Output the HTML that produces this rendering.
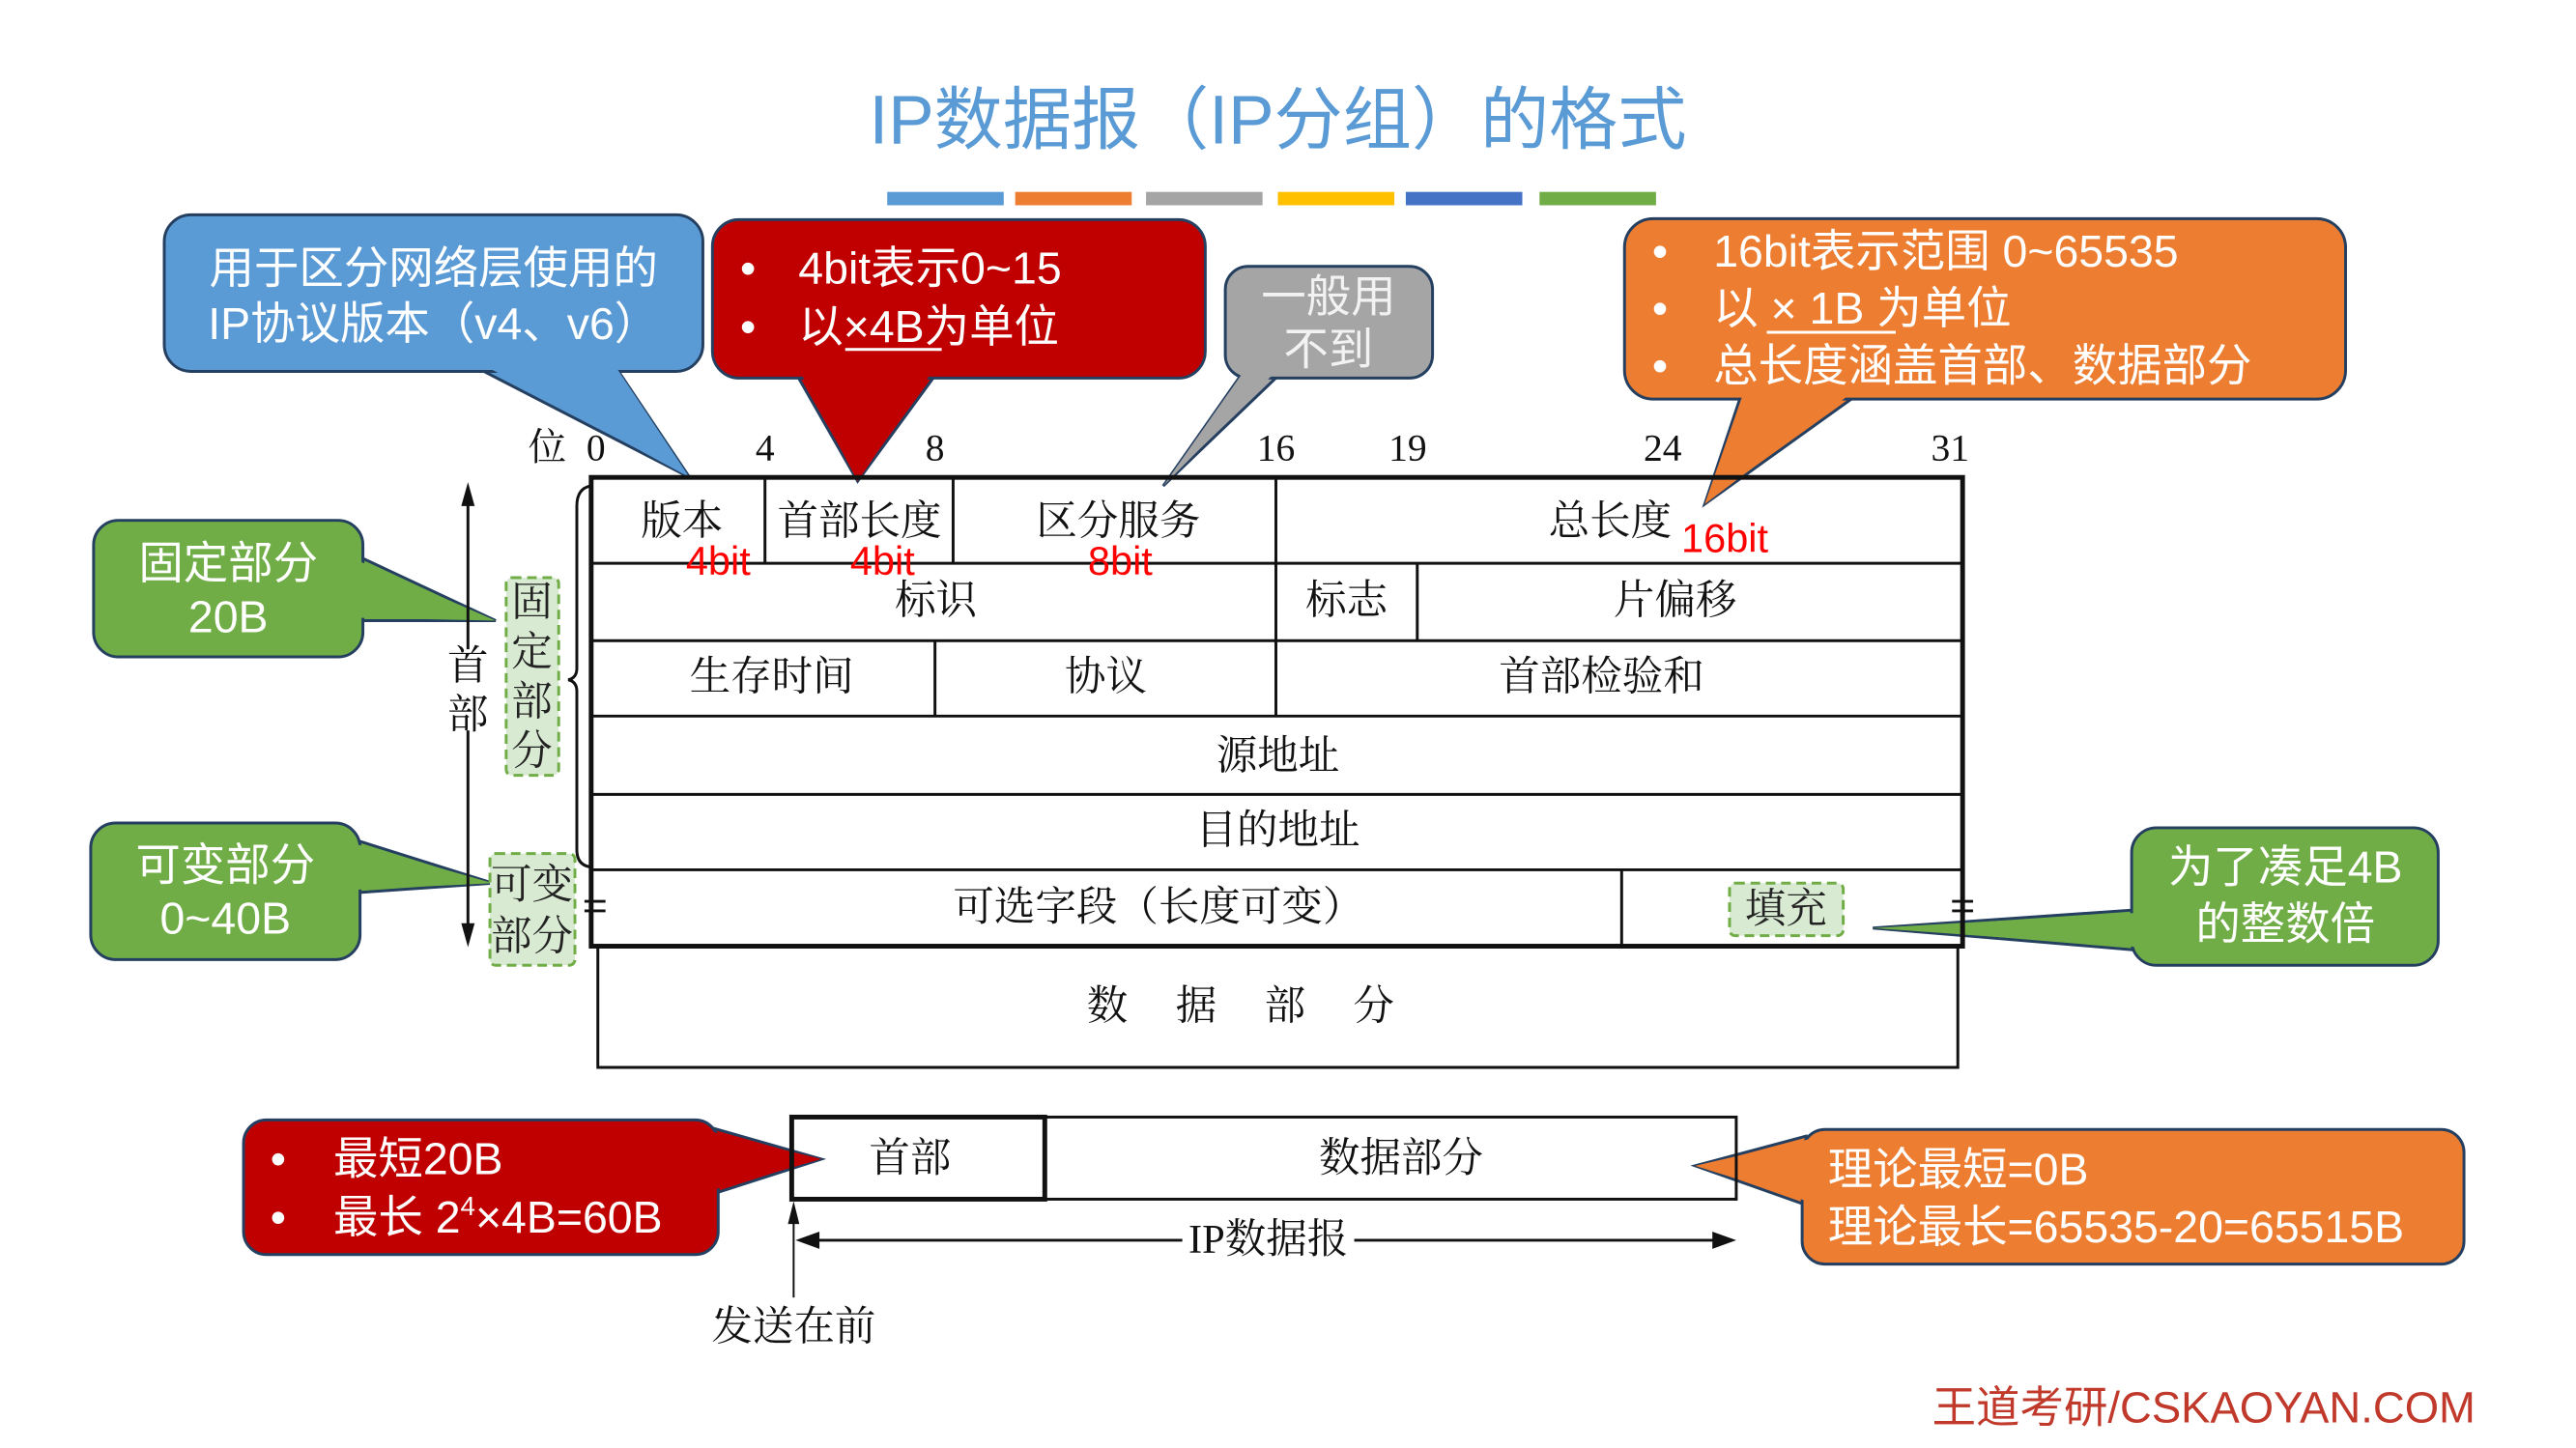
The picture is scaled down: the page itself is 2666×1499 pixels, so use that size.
<!DOCTYPE html>
<html><head><meta charset="utf-8"><style>
html,body{margin:0;padding:0;background:#fff;}
svg{display:block;}
.cjk{font-family:"Liberation Sans","Noto Sans CJK SC",sans-serif;}
.ser{font-family:"Liberation Serif","Noto Serif CJK SC",serif;}
</style></head><body>
<svg width="2666" height="1499" viewBox="0 0 2666 1499" xmlns="http://www.w3.org/2000/svg">
<g transform="scale(0.9884)">
<text x="1338" y="150" text-anchor="middle" class="cjk" font-size="72" fill="#5b9bd5">IP数据报（IP分组）的格式</text>
<rect x="929" y="201" width="122" height="14" fill="#5b9bd5"/>
<rect x="1063" y="201" width="122" height="14" fill="#ed7d31"/>
<rect x="1200" y="201" width="122" height="14" fill="#a5a5a5"/>
<rect x="1338" y="201" width="122" height="14" fill="#ffc000"/>
<rect x="1472" y="201" width="122" height="14" fill="#4472c4"/>
<rect x="1612" y="201" width="122" height="14" fill="#70ad47"/>

<g stroke="#243f60" stroke-width="3">
<polygon points="499,385 645,385 722,500" fill="#5b9bd5"/>
<rect x="172" y="225" width="564" height="164" rx="28" fill="#5b9bd5"/>
<polygon points="502,380 642,380 722,500" fill="#5b9bd5" stroke="none"/>
<polygon points="834,392 980,392 898,504" fill="#c00000"/>
<rect x="746" y="230" width="516" height="166" rx="28" fill="#c00000"/>
<polygon points="837,388 977,388 898,504" fill="#c00000" stroke="none"/>
<polygon points="1300,392 1340,392 1218,509" fill="#a5a5a5"/>
<rect x="1283" y="279" width="217" height="117" rx="24" fill="#a5a5a5"/>
<polygon points="1303,388 1337,388 1218,509" fill="#a5a5a5" stroke="none"/>
<polygon points="1823,414 1944,414 1785,528" fill="#ed7d31"/>
<rect x="1701" y="229" width="755" height="189" rx="30" fill="#ed7d31"/>
<polygon points="1826,410 1941,410 1785,528" fill="#ed7d31" stroke="none"/>
<polygon points="376,583 376,650 519,650" fill="#70ad47"/>
<rect x="98" y="545" width="282" height="143" rx="26" fill="#70ad47"/>
<polygon points="372,586 372,647 519,650" fill="#70ad47" stroke="none"/>
<polygon points="373,880 373,935 516,925" fill="#70ad47"/>
<rect x="95" y="862" width="282" height="143" rx="26" fill="#70ad47"/>
<polygon points="369,883 369,932 516,925" fill="#70ad47" stroke="none"/>
<polygon points="2236,953 2236,995 1961,972" fill="#70ad47"/>
<rect x="2232" y="867" width="321" height="144" rx="26" fill="#70ad47"/>
<polygon points="2240,956 2240,992 1961,972" fill="#70ad47" stroke="none"/>
<polygon points="748,1182 748,1250 860,1214" fill="#c00000"/>
<rect x="255" y="1173" width="497" height="141" rx="24" fill="#c00000"/>
<polygon points="744,1185 744,1247 860,1214" fill="#c00000" stroke="none"/>
<polygon points="1891,1190 1891,1262 1775,1221" fill="#ed7d31"/>
<rect x="1887" y="1183" width="693" height="141" rx="24" fill="#ed7d31"/>
<polygon points="1895,1193 1895,1259 1775,1221" fill="#ed7d31" stroke="none"/>
</g>

<g class="cjk" fill="#fff" font-size="47">
<text x="454" y="297" text-anchor="middle">用于区分网络层使用的</text>
<text x="454" y="355" text-anchor="middle">IP协议版本（v4、v6）</text>
<text x="775" y="297">•</text><text x="836" y="297">4bit表示0~15</text>
<text x="775" y="358">•</text><text x="836" y="358">以×4B为单位</text>
<line x1="885" y1="366" x2="986" y2="366" stroke="#fff" stroke-width="3"/>
<text x="1391" y="327" text-anchor="middle" fill="#f2f2f2">一般用</text>
<text x="1391" y="382" text-anchor="middle" fill="#f2f2f2">不到</text>
<text x="1730" y="279">•</text><text x="1794" y="279">16bit表示范围 0~65535</text>
<text x="1730" y="339">•</text><text x="1794" y="339">以 × 1B 为单位</text>
<line x1="1850" y1="348" x2="1985" y2="348" stroke="#fff" stroke-width="3"/>
<text x="1730" y="399">•</text><text x="1794" y="399">总长度涵盖首部、数据部分</text>
<text x="239" y="606" text-anchor="middle">固定部分</text>
<text x="239" y="662" text-anchor="middle">20B</text>
<text x="236" y="922" text-anchor="middle">可变部分</text>
<text x="236" y="978" text-anchor="middle">0~40B</text>
<text x="2393" y="924" text-anchor="middle">为了凑足4B</text>
<text x="2393" y="984" text-anchor="middle">的整数倍</text>
<text x="283" y="1230">•</text><text x="349" y="1230">最短20B</text>
<text x="283" y="1291">•</text><text x="349" y="1291">最长 2<tspan font-size="28" dy="-18">4</tspan><tspan dy="18">×4B=60B</tspan></text>
<text x="1914" y="1241">理论最短=0B</text>
<text x="1914" y="1301">理论最长=65535-20=65515B</text>
</g>

<g class="ser" font-size="40" fill="#111" text-anchor="middle">
<text x="573" y="482">位</text>
<text x="624" y="482">0</text><text x="801" y="482">4</text><text x="979" y="482">8</text>
<text x="1336" y="482">16</text><text x="1474" y="482">19</text><text x="1741" y="482">24</text><text x="2042" y="482">31</text>
</g>

<g stroke="#111" fill="none">
<rect x="619" y="500" width="1436" height="491" stroke-width="5"/>
<g stroke-width="3">
<line x1="619" y1="590" x2="2055" y2="590"/>
<line x1="619" y1="671" x2="2055" y2="671"/>
<line x1="619" y1="750" x2="2055" y2="750"/>
<line x1="619" y1="832" x2="2055" y2="832"/>
<line x1="619" y1="911" x2="2055" y2="911"/>
<line x1="801" y1="500" x2="801" y2="590"/>
<line x1="998" y1="500" x2="998" y2="590"/>
<line x1="1336" y1="500" x2="1336" y2="750"/>
<line x1="1484" y1="590" x2="1484" y2="671"/>
<line x1="979" y1="671" x2="979" y2="750"/>
<line x1="1698" y1="911" x2="1698" y2="991"/>
<polyline points="626,991 626,1118 2050,1118 2050,991"/>
<line x1="612" y1="944" x2="634" y2="944"/><line x1="612" y1="954" x2="634" y2="954"/>
<line x1="2044" y1="944" x2="2066" y2="944"/><line x1="2044" y1="954" x2="2066" y2="954"/>
<path d="M618,509 Q604,512 604,530 L604,700 Q604,710 595,712 Q604,714 604,724 L604,890 Q604,906 618,908"/>
<line x1="490" y1="515" x2="490" y2="680"/>
<line x1="490" y1="765" x2="490" y2="980"/>
</g>
<polygon points="490,505 483,530 497,530" fill="#111" stroke="none"/>
<polygon points="490,992 483,967 497,967" fill="#111" stroke="none"/>
</g>
<g class="ser" font-size="43" fill="#111" text-anchor="middle">
<text x="490" y="712">首</text><text x="490" y="763">部</text>
<text x="714" y="560">版本</text>
<text x="900" y="560">首部长度</text>
<text x="1171" y="560">区分服务</text>
<text x="1686" y="560">总长度</text>
<text x="980" y="643">标识</text>
<text x="1410" y="643">标志</text>
<text x="1754" y="643">片偏移</text>
<text x="808" y="723">生存时间</text>
<text x="1158" y="723">协议</text>
<text x="1677" y="723">首部检验和</text>
<text x="1338" y="806">源地址</text>
<text x="1338" y="884">目的地址</text>
<text x="1213" y="964">可选字段（长度可变）</text>
<text x="1324" y="1068" letter-spacing="50">数据部分</text>
</g>
<g class="cjk" font-size="42" fill="#ff0000" text-anchor="middle">
<text x="752" y="602">4bit</text><text x="924" y="602">4bit</text><text x="1173" y="602">8bit</text>
<text x="1806" y="578">16bit</text>
</g>

<g fill="#d9ead3" stroke="#70ad47" stroke-width="3" stroke-dasharray="10,6">
<rect x="530" y="605" width="55" height="207" rx="6"/>
<rect x="513" y="894" width="89" height="117" rx="6"/>
<rect x="1811" y="925" width="119" height="55" rx="6"/>
</g>
<g class="ser" font-size="43" fill="#222" text-anchor="middle">
<text x="557" y="645">固</text><text x="557" y="697">定</text><text x="557" y="749">部</text><text x="557" y="801">分</text>
<text x="557" y="941">可变</text><text x="557" y="995">部分</text>
<text x="1870" y="966">填充</text>
</g>

<g stroke="#111" fill="none">
<rect x="829" y="1170" width="989" height="86" stroke-width="3"/>
<rect x="829" y="1170" width="265" height="86" stroke-width="5"/>
<line x1="831" y1="1265" x2="831" y2="1359" stroke-width="2"/>
<line x1="845" y1="1299" x2="1805" y2="1299" stroke-width="3"/>
</g>
<polygon points="831,1258 825,1282 837,1282" fill="#111"/>
<polygon points="833,1299 858,1290 858,1308" fill="#111"/>
<polygon points="1818,1299 1793,1290 1793,1308" fill="#111"/>
<rect x="1238" y="1280" width="180" height="40" fill="#fff"/>
<g class="ser" font-size="43" fill="#111" text-anchor="middle">
<text x="953" y="1227">首部</text>
<text x="1467" y="1227">数据部分</text>
<text x="1328" y="1312">IP数据报</text>
<text x="831" y="1404">发送在前</text>
</g>
<text x="2592" y="1490" text-anchor="end" class="cjk" font-size="46" fill="#c0392b">王道考研/CSKAOYAN.COM</text>
</g>
</svg>
</body></html>
